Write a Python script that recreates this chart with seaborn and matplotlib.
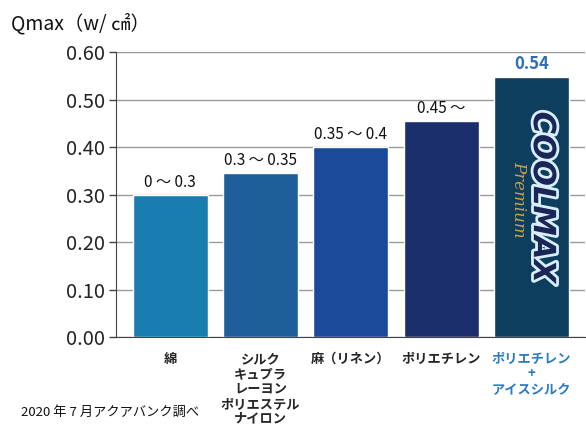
import matplotlib
matplotlib.use("Agg")
import matplotlib.pyplot as plt
import matplotlib.patheffects as pe
import seaborn as sns
import pandas as pd

# --------------------------
# Data
# --------------------------
categories = ["綿", "シルク\nキュプラ\nレーヨン\nポリエステル\nナイロン", "麻（リネン）",
              "ポリエチレン", "ポリエチレン\n+\nアイスシルク"]
qmax = [0.30, 0.345, 0.40, 0.455, 0.547]
value_labels = ["0 〜 0.3", "0.3 〜 0.35", "0.35 〜 0.4", "0.45 〜", "0.54"]
bar_colors = ["#1a7db0", "#1f5f99", "#1a4a98", "#1b2f6c", "#0d3e5e"]
yticks = [0.0, 0.1, 0.2, 0.3, 0.4, 0.5, 0.6]

sns.set_style("white")
plt.rcParams["font.family"] = ["Noto Sans CJK JP", "DejaVu Sans"]

df = pd.DataFrame({"cat": categories, "qmax": qmax})

fig = plt.figure(figsize=(5.86, 4.26), dpi=100)
ax = fig.add_axes([0.198, 0.208, 0.80, 0.670])

sns.barplot(data=df, x="cat", y="qmax", hue="cat", palette=bar_colors,
            legend=False, width=0.83, saturation=1, ax=ax, zorder=2)

ax.set_ylim(0, 0.6)
ax.set_xlim(-0.6, 4.59)
ax.set_yticks(yticks)
ax.set_yticklabels([f"{v:.2f}" for v in yticks], fontsize=14.5, color="#222222")
ax.yaxis.grid(True, color="#9a9a9a", lw=1, zorder=0)
ax.set_axisbelow(True)
ax.tick_params(axis="y", left=True, length=5, width=1, color="#444444", pad=3)
ax.tick_params(axis="x", bottom=False, pad=7)
ax.set_xlabel("")
ax.set_ylabel("")
for s in ["top", "right"]:
    ax.spines[s].set_visible(False)
ax.spines["left"].set_color("#444444")
ax.spines["bottom"].set_color("#444444")

for lab in ax.get_xticklabels():
    lab.set_fontsize(9.5)
    lab.set_fontweight("bold")
    lab.set_linespacing(1.08)
    lab.set_va("top")
ax.get_xticklabels()[-1].set_color("#2b7bc0")

# value labels above bars
for i, (v, t) in enumerate(zip(qmax, value_labels)):
    if i == len(qmax) - 1:
        ax.text(i, v + 0.008, t, ha="center", va="bottom", fontsize=12,
                fontweight="bold", color="#2e6db4")
    else:
        ax.text(i, v + 0.008, t, ha="center", va="bottom", fontsize=11,
                color="#111111")

# COOLMAX logo on last bar
ax.text(4.12, 0.295, "COOLMAX", rotation=270, ha="center", va="center",
        fontsize=22, fontweight="bold", fontstyle="italic", color="#1a2656",
        family=["DejaVu Sans"],
        path_effects=[pe.withStroke(linewidth=4, foreground="#d8eefc")])
ax.text(3.86, 0.29, "Premium", rotation=270, ha="center", va="center",
        fontsize=12, fontstyle="italic", color="#c9a24a", family=["DejaVu Serif"])

fig.text(0.018, 0.945, "Qmax（w/ ㎠）", fontsize=14, color="#111111",
         ha="left", va="center")
fig.text(0.035, 0.032, "2020 年 7 月アクアバンク調べ", fontsize=9.5,
         color="#111111", ha="left", va="center")

fig.savefig("out.png", dpi=100)
